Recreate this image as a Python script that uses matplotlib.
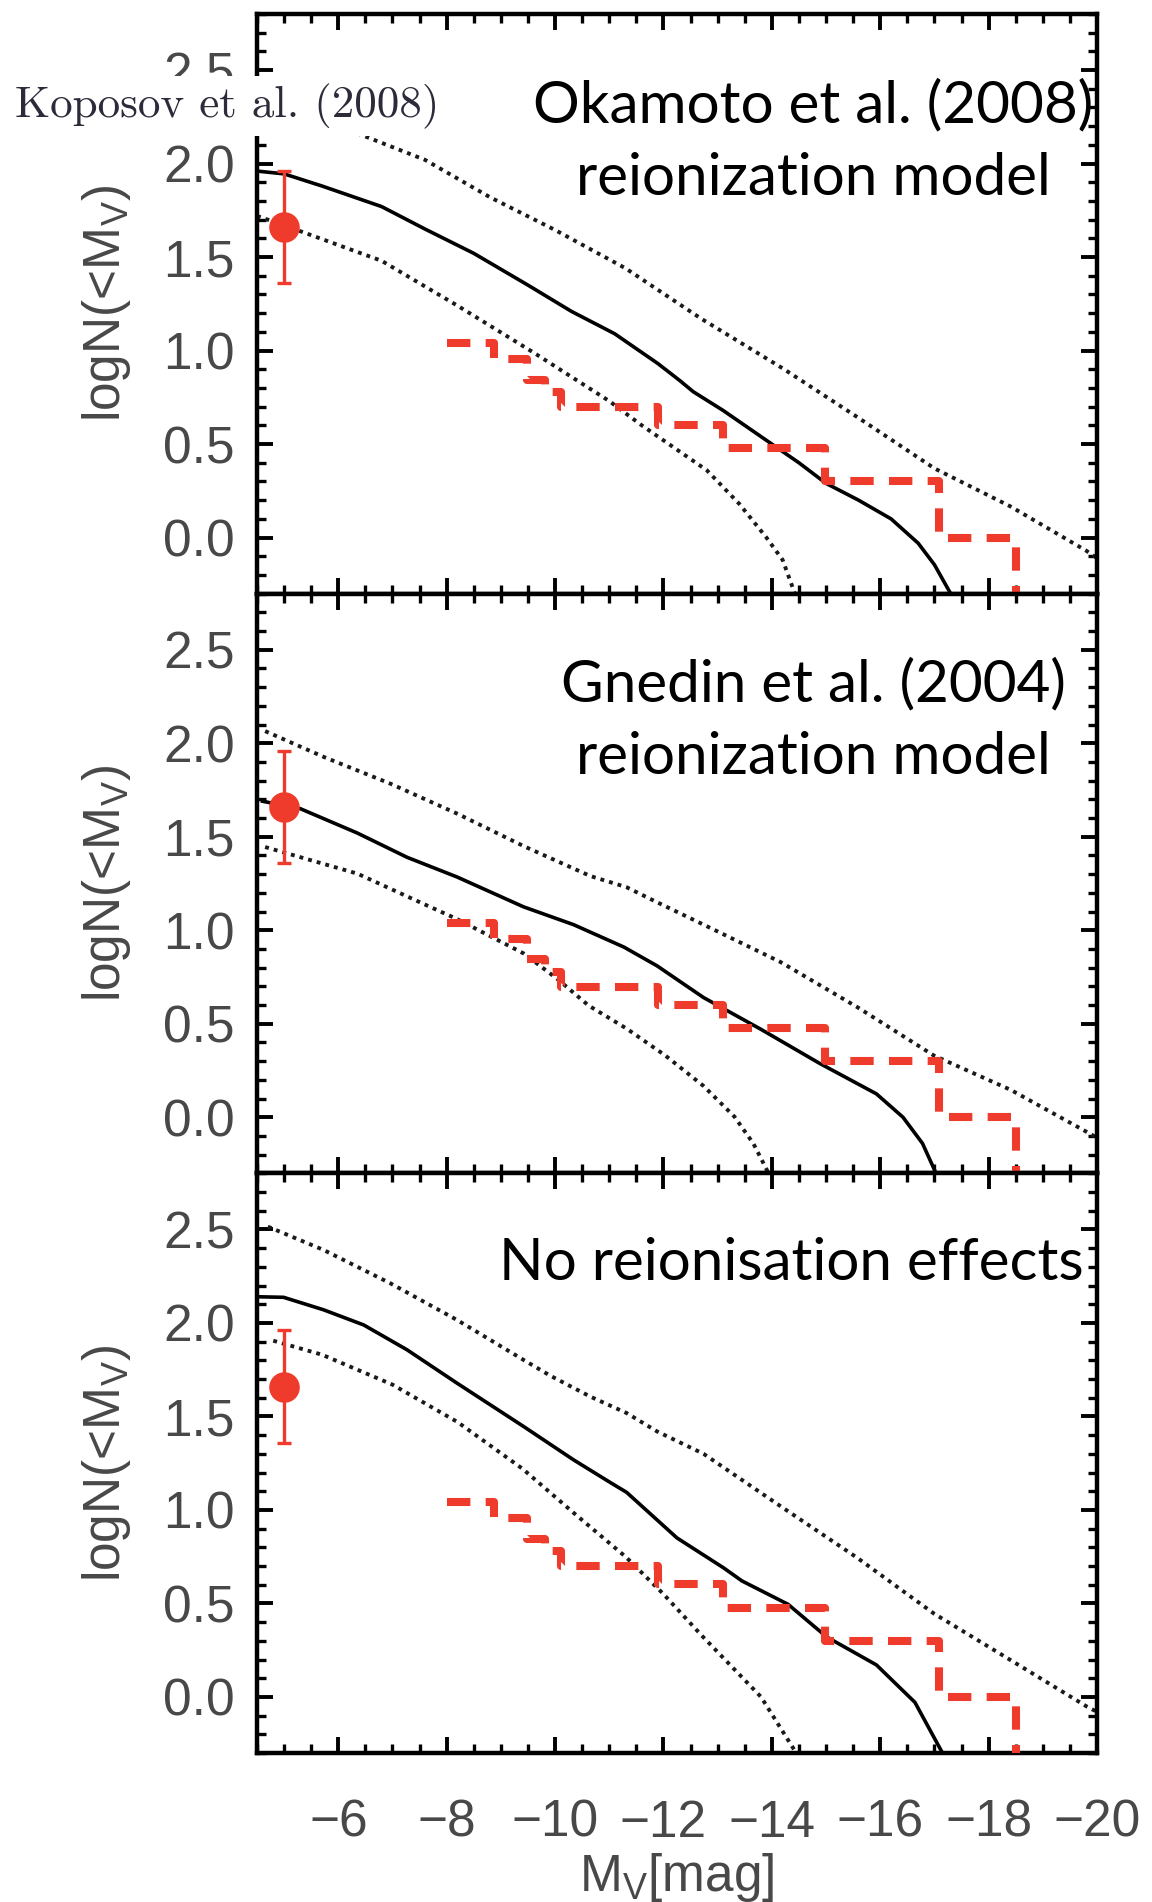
import numpy as np
import matplotlib
matplotlib.use("Agg")
import matplotlib.pyplot as plt
from matplotlib.ticker import MultipleLocator, FormatStrFormatter
from matplotlib.patches import Rectangle

# observed point, Koposov et al. (2008)
obs_mag = -5.0
obs_logn = 1.66
obs_err = 0.30

# observed cumulative counts (red dashed step line), same in all panels
hist_edges = [-8.0, -8.87, -9.48, -9.82, -10.11, -11.9, -13.1, -14.98, -17.08, -18.5]
hist_counts = [11, 9, 7, 6, 5, 4, 3, 2, 1, 0]

# panel 1: Okamoto et al. (2008)
oka_mid_mag = [-4.5, -5.0, -5.7, -6.8, -7.6, -8.5, -9.5, -10.3, -11.1, -11.9, -12.3,
               -12.55, -13.1, -13.9, -14.5, -15.0, -15.6, -16.2, -16.7, -17.0, -17.3]
oka_mid = [1.96, 1.945, 1.88, 1.77, 1.65, 1.52, 1.35, 1.21, 1.09, 0.93, 0.84,
           0.78, 0.68, 0.52, 0.40, 0.29, 0.20, 0.10, -0.03, -0.145, -0.30]
oka_hi_mag = [-4.5, -5.5, -6.5, -7.6, -8.8, -10.0, -11.3, -12.7, -14.2, -15.6, -17.0,
              -18.4, -19.8, -20.0]
oka_hi = [2.37, 2.26, 2.145, 2.02, 1.82, 1.645, 1.44, 1.17, 0.905, 0.64, 0.37,
          0.167, -0.07, -0.11]
oka_lo_mag = [-4.5, -5.0, -6.8, -8.2, -9.6, -11.0, -11.6, -12.1, -12.8, -13.4, -13.9,
              -14.2, -14.45]
oka_lo = [1.72, 1.67, 1.48, 1.24, 0.99, 0.73, 0.60, 0.50, 0.36, 0.18, 0.0, -0.12, -0.32]

# panel 2: Gnedin et al. (2004)
gne_mid_mag = [-4.6, -5.3, -6.35, -7.27, -8.19, -9.42, -10.34, -11.27, -11.88, -12.74,
               -13.8, -14.87, -15.93, -16.42, -16.78, -17.03]
gne_mid = [1.69, 1.65, 1.52, 1.39, 1.285, 1.125, 1.03, 0.91, 0.81, 0.64,
           0.47, 0.29, 0.125, 0.0, -0.14, -0.30]
gne_hi_mag = [-4.65, -5.73, -6.96, -8.19, -9.42, -10.65, -11.32, -11.88, -12.74, -14.16,
              -15.57, -16.99, -18.41, -19.82, -20.0]
gne_hi = [2.065, 1.927, 1.784, 1.624, 1.45, 1.29, 1.23, 1.15, 1.03, 0.83,
          0.59, 0.33, 0.146, -0.08, -0.11]
gne_lo_mag = [-4.65, -6.35, -7.58, -8.19, -9.42, -10.04, -10.62, -11.32, -12.03, -12.74,
              -13.31, -13.66, -13.94]
gne_lo = [1.445, 1.303, 1.14, 1.06, 0.876, 0.74, 0.597, 0.474, 0.331, 0.167,
          0.003, -0.141, -0.30]

# panel 3: no reionisation
nor_mid_mag = [-4.5, -4.99, -5.73, -6.47, -7.27, -8.19, -9.42, -10.34, -11.0, -11.32,
               -12.25, -13.11, -13.45, -14.3, -15.01, -15.93, -16.64, -17.13]
nor_mid = [2.14, 2.137, 2.07, 1.989, 1.856, 1.678, 1.446, 1.268, 1.15, 1.094,
           0.85, 0.69, 0.62, 0.495, 0.321, 0.171, -0.029, -0.29]
nor_hi_mag = [-4.7, -5.73, -6.96, -8.19, -9.42, -9.91, -10.65, -11.32, -11.88, -12.74,
              -14.16, -15.57, -16.99, -18.41, -19.82, -20.0]
nor_hi = [2.515, 2.39, 2.212, 2.016, 1.802, 1.718, 1.606, 1.518, 1.42, 1.30,
          1.02, 0.745, 0.446, 0.196, -0.053, -0.08]
nor_lo_mag = [-4.8, -5.7, -7.0, -8.2, -9.4, -10.4, -11.3, -12.0, -12.7, -13.3, -13.8, -14.45]
nor_lo = [1.905, 1.83, 1.67, 1.47, 1.22, 0.97, 0.75, 0.55, 0.33, 0.15, 0.0, -0.30]

panel_labels = ["Okamoto et al. (2008)\nreionization model",
                "Gnedin et al. (2004)\nreionization model",
                "No reionisation effects"]
xticks = [-6, -8, -10, -12, -14, -16, -18, -20]

RED = '#EE3B2B'
GREY = '#484848'


def main():
    plt.rcParams['font.family'] = ['Liberation Sans', 'DejaVu Sans']
    plt.rcParams['mathtext.fontset'] = 'custom'
    plt.rcParams['mathtext.rm'] = 'Liberation Sans'
    plt.rcParams['mathtext.it'] = 'Liberation Sans:italic'

    fig = plt.figure(figsize=(11.52, 19.02), dpi=100)

    left, width = 257 / 1152, 840 / 1152
    h = (1753 - 14) / 3 / 1902
    bottom0 = 1 - 1753 / 1902

    panels = [
        (oka_mid_mag, oka_mid, oka_hi_mag, oka_hi, oka_lo_mag, oka_lo),
        (gne_mid_mag, gne_mid, gne_hi_mag, gne_hi, gne_lo_mag, gne_lo),
        (nor_mid_mag, nor_mid, nor_hi_mag, nor_hi, nor_lo_mag, nor_lo),
    ]

    step_y = np.log10(np.clip(np.array(hist_counts, float), 0.1, None))

    for i, (mm, m, hm, hi, lm, lo) in enumerate(panels):
        ax = fig.add_axes([left, bottom0 + (2 - i) * h, width, h])

        ax.plot(hm, hi, color='#1a1a1a', lw=2.8, ls=(0, (1, 1.3)))
        ax.plot(lm, lo, color='#1a1a1a', lw=2.8, ls=(0, (1, 1.3)))
        ax.plot(mm, m, color='black', lw=2.6)
        ax.step(hist_edges, step_y, where='post', color=RED, lw=5.8,
                ls=(0, (2.9, 1.9)), zorder=4)
        ax.errorbar([obs_mag], [obs_logn], yerr=[obs_err], fmt='o', color=RED,
                    ms=21, elinewidth=2.4, capsize=5, capthick=2.4, zorder=5)

        ax.set_xlim(-4.5, -20)
        ax.set_ylim(-0.3, 2.8)
        ax.set_xticks(xticks)
        ax.xaxis.set_minor_locator(MultipleLocator(0.5))
        ax.yaxis.set_major_locator(MultipleLocator(0.5))
        ax.yaxis.set_minor_locator(MultipleLocator(0.1))
        ax.yaxis.set_major_formatter(FormatStrFormatter('%.1f'))

        for sp in ax.spines.values():
            sp.set_linewidth(3.2)
        ax.tick_params(which='both', direction='in', top=True, right=True,
                       labelsize=37, labelcolor=GREY)
        ax.tick_params(which='major', length=11.5, width=2.8)
        ax.tick_params(which='minor', length=6.5, width=2.4)
        ax.tick_params(axis='y', pad=16)
        ax.tick_params(axis='x', pad=33)

        ax.set_ylabel('logN(<M$_\\mathrm{V}$)', fontsize=37, color=GREY, labelpad=22)
        if i < 2:
            ax.tick_params(axis='x', labelbottom=False)
        else:
            ax.set_xlabel('M$_\\mathrm{V}$[mag]', fontsize=37, color=GREY, labelpad=2)

        if i < 2:
            ax.text(0.662, 0.78, panel_labels[i], transform=ax.transAxes,
                    ha='center', va='center', multialignment='center',
                    fontsize=42, family='Lato', linespacing=1.45, color='black')
        else:
            ax.text(0.636, 0.844, panel_labels[i], transform=ax.transAxes,
                    ha='center', va='center', fontsize=42, family='Lato', color='black')

    # white strip with the reference label, laid over the top panel
    fig.add_artist(Rectangle((0, 1 - 136 / 1902), 444 / 1152, 60 / 1902,
                             transform=fig.transFigure, facecolor='white',
                             edgecolor='none', zorder=10))
    fig.text(15 / 1152, 1 - 106 / 1902, 'Koposov et al. (2008)', ha='left', va='center',
             fontsize=32.5, family='cmr10', color='#2b2b3a', zorder=11)

    fig.savefig('out.png', dpi=100)


if __name__ == "__main__":
    main()
